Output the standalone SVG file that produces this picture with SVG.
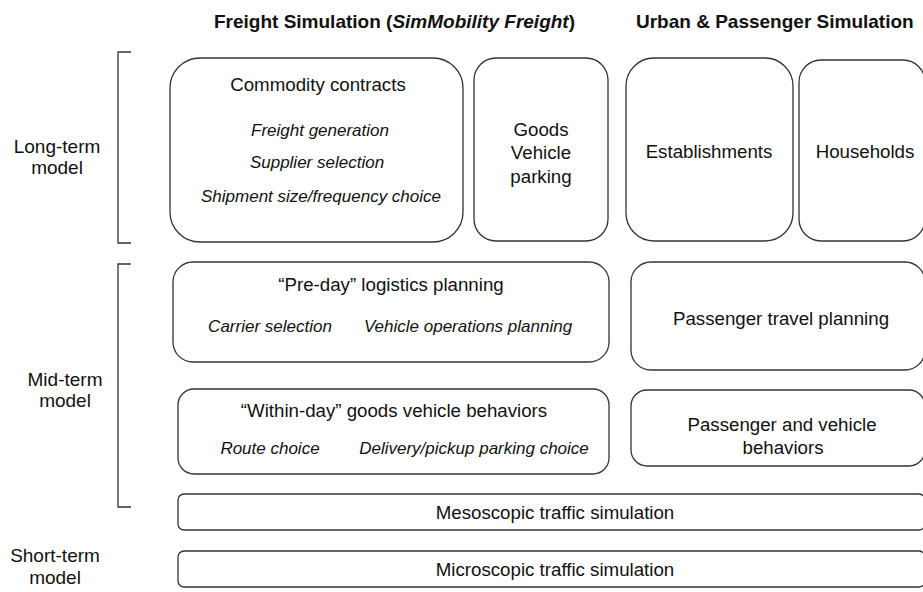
<svg xmlns="http://www.w3.org/2000/svg" width="923" height="592" viewBox="0 0 923 592">
  <style>
    text { font-family: "Liberation Sans", Arial, sans-serif; fill: #111; text-anchor: middle; }
    .hdr { font-weight: bold; font-size: 19px; text-anchor: start; }
    .t { font-size: 18.7px; }
    .it { font-size: 17px; font-style: italic; }
    .lbl { font-size: 19px; }
    .box { fill: #fff; stroke: #333; stroke-width: 1.3; }
    .br { fill: none; stroke: #333; stroke-width: 1.3; }
  </style>
  <rect width="923" height="592" fill="#fff"/>

  <!-- column headers -->
  <text class="hdr" x="214" y="28">Freight Simulation (<tspan font-style="italic">SimMobility Freight</tspan>)</text>
  <text class="hdr" x="636" y="28">Urban &amp; Passenger Simulation</text>

  <!-- time-horizon brackets and labels -->
  <g id="brackets">
    <path class="br" d="M131,52 H118 V243 H131"/>
    <path class="br" d="M131,264 H118 V507 H131"/>
  </g>
  <g id="labels">
    <text class="lbl" x="57" y="153">Long-term</text>
    <text class="lbl" x="57" y="174">model</text>
    <text class="lbl" x="65" y="386">Mid-term</text>
    <text class="lbl" x="65" y="407">model</text>
    <text class="lbl" x="55" y="562">Short-term</text>
    <text class="lbl" x="55" y="584">model</text>
  </g>

  <!-- long-term nodes -->
  <g id="commodity-contracts">
    <rect class="box" x="170" y="58" width="293" height="184" rx="30"/>
    <text class="t" x="318" y="91">Commodity contracts</text>
    <text class="it" x="320" y="136">Freight generation</text>
    <text class="it" x="317" y="168">Supplier selection</text>
    <text class="it" x="321" y="202">Shipment size/frequency choice</text>
  </g>
  <g id="goods-vehicle-parking">
    <rect class="box" x="474" y="58" width="134" height="183" rx="22"/>
    <text class="t" x="541" y="136">Goods</text>
    <text class="t" x="541" y="159">Vehicle</text>
    <text class="t" x="541" y="183">parking</text>
  </g>
  <g id="establishments">
    <rect class="box" x="626" y="58" width="167" height="183" rx="28"/>
    <text class="t" x="709" y="158">Establishments</text>
  </g>
  <g id="households">
    <rect class="box" x="799" y="60" width="126" height="181" rx="22"/>
    <text class="t" x="865" y="158">Households</text>
  </g>

  <!-- mid-term nodes -->
  <g id="pre-day-planning">
    <rect class="box" x="173" y="262" width="436" height="100" rx="20"/>
    <text class="t" x="391" y="291">“Pre-day” logistics planning</text>
    <text class="it" x="270" y="332">Carrier selection</text>
    <text class="it" x="468" y="332">Vehicle operations planning</text>
  </g>
  <g id="passenger-travel-planning">
    <rect class="box" x="631" y="262" width="294" height="108" rx="20"/>
    <text class="t" x="781" y="325">Passenger travel planning</text>
  </g>
  <g id="within-day-behaviors">
    <rect class="box" x="178" y="389" width="431" height="85" rx="16"/>
    <text class="t" x="394" y="417">“Within-day” goods vehicle behaviors</text>
    <text class="it" x="270" y="454">Route choice</text>
    <text class="it" x="474" y="454">Delivery/pickup parking choice</text>
  </g>
  <g id="passenger-vehicle-behaviors">
    <rect class="box" x="631" y="390" width="294" height="76" rx="16"/>
    <text class="t" x="782" y="431">Passenger and vehicle</text>
    <text class="t" x="783" y="454">behaviors</text>
  </g>
  <g id="mesoscopic">
    <rect class="box" x="178" y="494" width="747" height="36" rx="6"/>
    <text class="t" x="555" y="519">Mesoscopic traffic simulation</text>
  </g>

  <!-- short-term node -->
  <g id="microscopic">
    <rect class="box" x="178" y="551" width="747" height="36" rx="6"/>
    <text class="t" x="555" y="576">Microscopic traffic simulation</text>
  </g>

  <g id="connectors"></g>
</svg>
